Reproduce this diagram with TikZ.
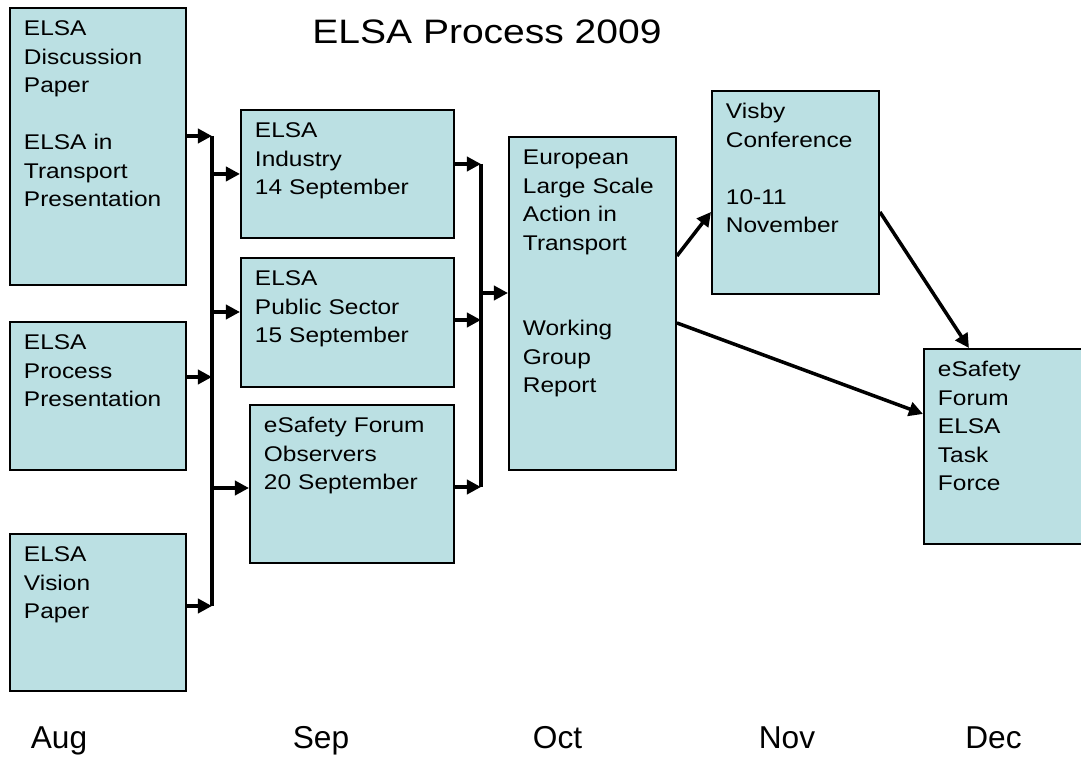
\documentclass[tikz,border=0pt]{standalone}
\usepackage{fontspec}
\setmainfont{Liberation Sans}
\newfontfamily\widefont[FakeStretch=1.15]{Liberation Sans}
\usetikzlibrary{arrows.meta}
\definecolor{elsablue}{RGB}{187,224,227}
\tikzset{
  stage/.style={draw=black, line width=1.1pt, fill=elsablue, anchor=north west,
    align=left, inner xsep=0.28cm, inner ysep=0pt, text height=0.56cm,
    font=\widefont\fontsize{12.1}{16.2}\selectfont},
  flow/.style={line width=2pt, -{Triangle[length=8pt,width=8pt]}},
  bus/.style={line width=2pt},
  month/.style={anchor=base, font=\fontsize{18}{21}\selectfont}
}

\begin{document}
\begin{tikzpicture}
\useasboundingbox (0,0) rectangle (21.62,-15.22);
\begin{scope}
\clip (0,0) rectangle (21.62,-15.22);
\path (0.18,-0.14) node[stage, text width=2.96cm, text depth=4.98cm] (disc) {ELSA\\Discussion\\Paper\\[16.2pt]ELSA in\\Transport\\Presentation}
		(0.18,-6.42) node[stage, text width=2.96cm, text depth=2.40cm] (proc) {ELSA\\Process\\Presentation}
		(0.18,-10.66) node[stage, text width=2.96cm, text depth=2.58cm] (vision) {ELSA\\Vision\\Paper}
		(4.80,-2.18) node[stage, text width=3.70cm, text depth=2.00cm] (industry) {ELSA\\Industry\\14 September}
		(4.80,-5.14) node[stage, text width=3.70cm, text depth=2.02cm] (public) {ELSA\\Public Sector\\15 September}
		(4.98,-8.08) node[stage, text width=3.52cm, text depth=2.60cm] (observers) {eSafety Forum\\Observers\\20 September}
		(10.16,-2.72) node[stage, text width=2.78cm, text depth=6.10cm] (report) {European\\Large Scale\\Action in\\Transport\\[32.4pt]Working\\Group\\Report}
		(14.22,-1.80) node[stage, text width=2.78cm, text depth=3.50cm] (visby) {Visby\\Conference\\[16.2pt]10-11\\November}
		(18.46,-6.96) node[stage, text width=3.04cm, text depth=3.34cm] (taskforce) {eSafety\\Forum\\ELSA\\Task\\Force}
		;
\node[anchor=base, font=\widefont\fontsize{19.3}{22}\selectfont] (title) at (9.74,-0.88) {ELSA Process 2009};
\node[month] (aug) at (1.18,-14.96) {Aug};
\node[month] (sep) at (6.42,-14.96) {Sep};
\node[month] (oct) at (11.15,-14.96) {Oct};
\node[month] (nov) at (15.74,-14.96) {Nov};
\node[month] (dec) at (19.87,-14.96) {Dec};
% first bus
\coordinate (j1) at (4.24,-2.72);
\coordinate (j2) at (4.24,-7.54);
\coordinate (j3) at (4.24,-12.12);
\coordinate (o2) at (4.24,-6.24);
\coordinate (o3) at (4.24,-9.76);
\draw[flow] (disc.east |- j1) -- (j1);
\draw[flow] (proc.east |- j2) -- (j2);
\draw[flow] (vision.east |- j3) -- (j3);
\draw[bus] (j1) -- (j3);
\draw[flow] (industry.west -| j1) -- (industry.west);
\draw[flow] (o2) -- (public.west |- o2);
\draw[flow] (o3) -- (observers.west |- o3);
% second bus
\coordinate (k1) at (9.62,-3.28);
\coordinate (k2) at (9.62,-6.40);
\coordinate (k3) at (9.62,-9.74);
\coordinate (k4) at (9.62,-5.86);
\draw[flow] (industry.east |- k1) -- (k1);
\draw[flow] (public.east |- k2) -- (k2);
\draw[flow] (observers.east |- k3) -- (k3);
\draw[bus] (k1) -- (k3);
\draw[flow] (k4) -- (report.west |- k4);
% november and december
\draw[flow] ([yshift=0.95cm]report.east) -- ([yshift=-0.39cm]visby.west);
\draw[flow] ([yshift=-0.39cm]visby.east) -- ([xshift=-0.90cm]taskforce.north);
\draw[flow] ([yshift=-0.39cm]report.east) -- ([yshift=0.65cm]taskforce.west);
\end{scope}
\end{tikzpicture}
\end{document}
